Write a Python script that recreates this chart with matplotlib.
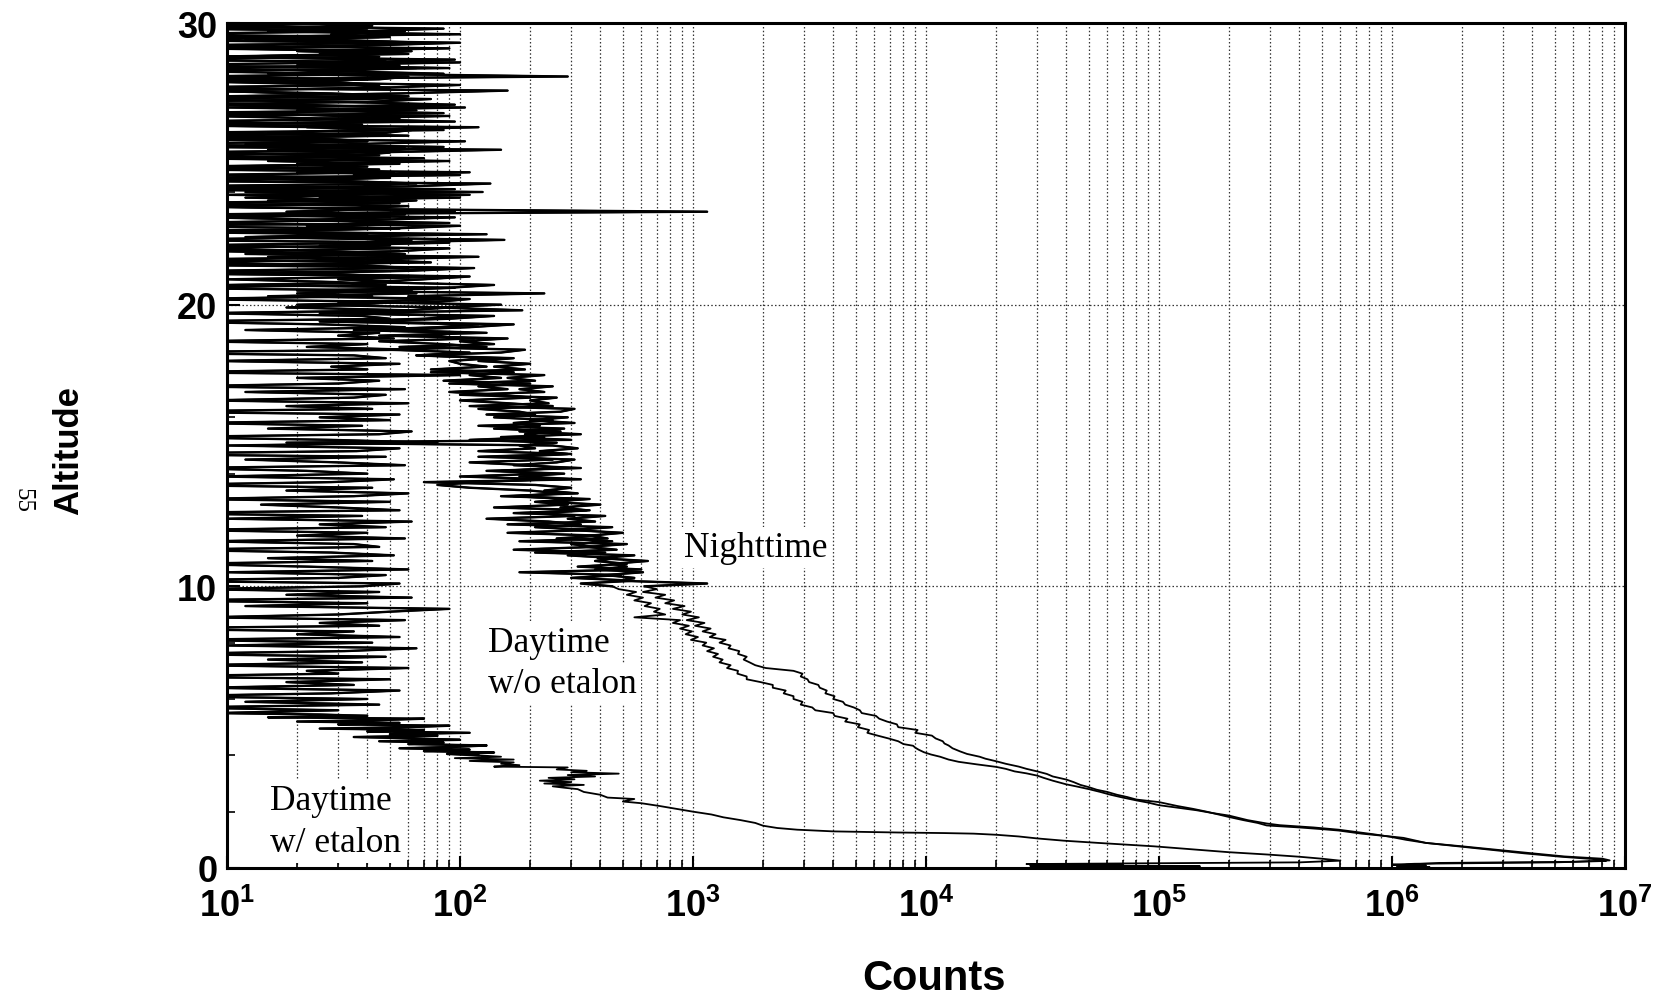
import numpy as np
import matplotlib
matplotlib.use("Agg")
import matplotlib.pyplot as plt
from matplotlib.ticker import LogLocator, MultipleLocator, NullFormatter, FixedLocator

# ---------------- data ----------------
# Nighttime profile
night_alt_low = [0.00, 0.03, 0.06, 0.09, 0.12, 0.15, 0.18, 0.22, 0.27, 0.33,
                 0.41, 0.53, 0.65, 0.77, 0.89, 0.98, 1.07, 1.12, 1.22, 1.33,
                 1.38, 1.44, 1.51, 1.60, 1.70, 1.81, 1.90, 2.00, 2.10, 2.20,
                 2.34, 2.43, 2.52, 2.60, 2.70, 2.78, 2.87, 2.95, 3.05, 3.14,
                 3.25, 3.34, 3.43, 3.52, 3.60, 3.70, 3.79, 3.88, 3.95, 4.05,
                 4.14, 4.25, 4.35, 4.42]
night_cnt_low = [1.2e6, 1.45e6, 1.1e6, 1.4e6, 1.15e6, 1.35e6, 1.6e6, 6.0e6, 8.6e6, 8.0e6,
                 5.5e6, 3.9e6, 2.8e6, 2.0e6, 1.4e6, 1.25e6, 1.12e6, 9.8e5, 7.4e5, 5.9e5,
                 5.0e5, 4.0e5, 2.9e5, 2.65e5, 2.3e5, 2.0e5, 1.8e5, 1.6e5, 1.4e5, 1.2e5,
                 1.0e5, 8.0e4, 7.3e4, 6.6e4, 6.0e4, 5.4e4, 5.0e4, 4.6e4, 4.3e4, 4.0e4,
                 3.5e4, 3.3e4, 3.0e4, 2.7e4, 2.5e4, 2.2e4, 2.0e4, 1.8e4, 1.7e4, 1.5e4,
                 1.4e4, 1.3e4, 1.25e4, 1.2e4]
# 4.5 .. 9.9 km, 0.1 km bins
night_cnt_mid = [11800, 11000, 10600, 9000, 9200, 7600, 7500, 6800, 6300, 6100,
                 5300, 5200, 4900, 4500, 4400, 4000, 4050, 3700, 3750, 3500,
                 3450, 3150, 3100, 2900, 2950, 2700, 2050, 1850, 1750, 1650,
                 1700, 1560, 1580, 1420, 1450, 1300, 1380, 1180, 1250, 1100,
                 1190, 1020, 1120, 940, 1060, 900, 980, 820, 920, 760,
                 830, 690, 760, 610, 700]
# 10.0 .. 30.0 km, 0.1 km bins
night_cnt_high = [620, 1150, 480, 560, 420, 610, 380, 520, 450, 640,
                  390, 560, 210, 470, 350, 520, 180, 430, 360, 500,
                  300, 450, 160, 380, 290, 420, 170, 350, 270, 400,
                  240, 360, 150, 320, 230, 300, 210, 70, 330, 180,
                  280, 130, 330, 170, 260, 310, 120, 290, 220, 320,
                  250, 18, 300, 150, 330, 180, 280, 120, 310, 200,
                  290, 130, 270, 310, 110, 240, 200, 260, 100, 230,
                  180, 250, 90, 210, 160, 230, 75, 190, 140, 200,
                  120, 170, 65, 150, 190, 55, 140, 100, 160, 45,
                  130, 50, 110, 170, 35, 90, 140, 25, 185, 80,
                  150, 30, 100, 60, 230, 20, 90, 140, 40, 70,
                  110, 15, 60, 115, 8, 75, 40, 120, 12, 55,
                  90, 6, 45, 155, 20, 130, 10, 50, 100, 5,
                  40, 95, 8, 1150, 30, 60, 4, 55, 25, 110,
                  12, 95, 5, 65, 30, 9, 100, 20, 45, 6,
                  55, 15, 70, 4, 40, 150, 7, 35, 105, 10,
                  45, 5, 85, 25, 3, 95, 30, 8, 85, 20,
                  105, 6, 40, 75, 10, 55, 160, 4, 45, 30,
                  8, 290, 35, 5, 90, 20, 100, 3, 45, 25,
                  55, 7, 40, 100, 12, 50, 4, 35, 85, 9,
                  30]

# Daytime without etalon
dwo_alt_low = [0.00, 0.03, 0.06, 0.09, 0.12, 0.15, 0.20, 0.25, 0.30, 0.40,
               0.52, 0.64, 0.76, 0.89, 1.00, 1.11, 1.20, 1.28, 1.36, 1.44,
               1.52, 1.58, 1.70, 1.86, 1.95, 2.05, 2.14, 2.23, 2.32, 2.40,
               2.50, 2.60, 2.70, 2.80, 2.90, 2.97, 3.10, 3.20, 3.28, 3.36,
               3.43, 3.52, 3.59, 3.68, 3.77, 3.85, 3.95, 4.03, 4.11, 4.20,
               4.27, 4.34, 4.40]
dwo_cnt_low = [1.1e6, 1.35e6, 1.05e6, 1.3e6, 1.0e6, 1.25e6, 5.0e6, 8.3e6, 7.8e6, 5.3e6,
               3.7e6, 2.7e6, 1.95e6, 1.4e6, 1.15e6, 9.8e5, 8.3e5, 7.0e5, 5.9e5, 4.6e5,
               3.3e5, 2.9e5, 2.4e5, 2.0e5, 1.7e5, 1.45e5, 1.2e5, 1.0e5, 9.0e4, 8.0e4,
               7.0e4, 6.2e4, 5.6e4, 5.0e4, 4.4e4, 4.0e4, 3.5e4, 3.2e4, 3.0e4, 2.7e4,
               2.4e4, 2.2e4, 2.0e4, 1.65e4, 1.38e4, 1.25e4, 1.15e4, 1.05e4, 9.8e3, 9.3e3,
               9.0e3, 8.8e3, 8.0e3]
dwo_cnt_mid = [7600, 6900, 6200, 5600, 5700, 5100, 5200, 4500, 4600, 4050,
               4000, 3350, 3250, 2900, 2950, 2700, 2700, 2450, 2500, 2200,
               2200, 1950, 1700, 1700, 1550, 1560, 1400, 1450, 1300, 1340,
               1220, 1280, 1150, 1230, 1100, 1140, 980, 1050, 930, 990,
               880, 960, 820, 880, 560, 760, 680, 720, 620, 660,
               560, 610, 520, 570, 480]
dwo_cnt_high = [450, 330, 560, 300, 490, 180, 600, 320, 520, 380,
                470, 290, 420, 170, 380, 300, 450, 260, 400, 160,
                360, 210, 330, 240, 130, 310, 220, 360, 140, 290,
                210, 310, 170, 270, 200, 110, 80, 120, 240, 100,
                230, 150, 270, 200, 110, 250, 170, 300, 120, 210,
                180, 260, 110, 230, 190, 270, 140, 220, 170, 250,
                140, 210, 180, 120, 250, 160, 100, 200, 150, 90,
                160, 120, 200, 85, 150, 110, 170, 75, 130, 100,
                90, 140, 65, 110, 50, 130, 85, 45, 115, 70,
                100, 35, 80, 120, 25, 70, 105, 30, 60, 90,
                20, 80, 110, 15, 65, 40, 95, 10, 55, 30,
                95, 6, 50, 100, 18, 60, 5, 70, 35, 9,
                55, 25, 90, 4, 40, 65, 12, 45, 3, 90,
                20, 50, 7, 95, 35, 5, 55, 15, 100, 10,
                125, 8, 60, 135, 4, 50, 35, 110, 6, 40,
                20, 90, 9, 45, 5, 55, 85, 12, 40, 3,
                60, 15, 35, 120, 6, 45, 25, 90, 4, 65,
                10, 95, 30, 5, 60, 20, 8, 45, 100, 15,
                40, 6, 85, 25, 65, 4, 35, 95, 9, 60,
                20, 90, 5, 70, 30, 8, 100, 15, 40, 3,
                50]

# Daytime with etalon
det_alt_low = [0.00, 0.02, 0.04, 0.06, 0.08, 0.10, 0.12, 0.14,
               0.20, 0.26, 0.33, 0.40, 0.48, 0.56, 0.66, 0.77, 0.89, 0.97,
               1.05, 1.12, 1.18, 1.22, 1.24, 1.26, 1.30, 1.36, 1.42, 1.50,
               1.60, 1.70, 1.80, 1.90, 2.00, 2.10, 2.20, 2.30, 2.36, 2.45,
               2.50, 2.60, 2.70, 2.80, 2.85, 2.90, 2.95, 3.00, 3.05, 3.10,
               3.15, 3.20, 3.25, 3.30, 3.35, 3.40, 3.45, 3.50, 3.57, 3.60,
               3.65, 3.70, 3.75, 3.80, 3.85, 3.90, 3.95]
det_cnt_low = [2.6e4, 9e4, 3.0e4, 1.5e5, 2.8e4, 7e4, 3.5e4, 2.7e4,
               4.0e5, 6.0e5, 5.0e5, 4.0e5, 2.9e5, 2.0e5, 1.4e5, 9.5e4, 5.5e4, 3.9e4,
               3.0e4, 2.5e4, 2.0e4, 1.6e4, 1.2e4, 7.6e3, 4.0e3, 2.8e3, 2.3e3, 2.0e3,
               1.85e3, 1.6e3, 1.35e3, 1.2e3, 1.0e3, 850, 720, 600, 500, 560,
               430, 400, 340, 320, 280, 250, 340, 230, 300, 220,
               310, 240, 380, 290, 480, 300, 350, 260, 290, 140,
               180, 150, 170, 110, 170, 95, 150]
# 4.00 .. 5.45 km, 0.05 km bins
det_cnt_mid = [120, 88, 140, 70, 110, 55, 95, 130, 60, 85,
               45, 100, 65, 35, 80, 50, 110, 40, 70, 25,
               60, 90, 30, 55, 20, 45, 70, 15, 40, 25]
# 5.5 .. 30.0 km, 0.1 km bins
det_cnt_high = [9, 30, 6, 45, 12,
                40, 5, 28, 55, 8, 35, 18, 50, 4, 30,
                22, 60, 7, 38, 15, 48, 5, 32, 65, 10,
                42, 6, 55, 20, 35, 3, 45, 25, 58, 8,
                30, 50, 90, 12, 40, 5, 62, 18, 45, 7,
                38, 55, 4, 30, 48, 10, 60, 22, 6, 42,
                15, 52, 28, 5, 45, 35, 8, 58, 20, 40,
                6, 48, 25, 62, 10, 38, 4, 55, 30, 14,
                50, 7, 35, 60, 18, 42, 5, 28, 52, 9,
                40, 22, 6, 58, 30, 12, 48, 3, 36, 55,
                10, 80, 28, 5, 45, 62, 15, 38, 7, 50,
                25, 55, 4, 42, 18, 60, 8, 35, 48, 12,
                58, 6, 30, 45, 20, 100, 5, 40, 28, 55,
                9, 48, 35, 3, 62, 22, 40, 7, 52, 30,
                45, 12, 58, 26, 5, 50, 38, 8, 60, 18,
                35, 55, 6, 42, 20, 62, 4, 48, 30, 10,
                52, 25, 8, 60, 38, 5, 45, 15, 58, 28,
                6, 50, 35, 62, 12, 40, 3, 55, 22, 45,
                30, 8, 58, 18, 48, 5, 40, 65, 12, 35,
                55, 4, 38, 60, 20, 45, 7, 52, 28, 10,
                42, 60, 6, 35, 50, 15, 58, 3, 40, 25,
                8, 48, 62, 22, 38, 5, 55, 30, 12, 45,
                58, 20, 4, 42, 60, 28, 7, 50, 35, 10,
                45, 60, 15, 38, 5, 55, 25, 48, 8, 40,
                62, 10, 35, 50, 4, 45, 28, 58, 6, 42,
                20]

x_ticks = [1e1, 1e2, 1e3, 1e4, 1e5, 1e6, 1e7]
y_ticks = [0, 10, 20, 30]
labels = {"night": "Nighttime", "dwo": ("Daytime", "w/o etalon"), "det": ("Daytime", "w/ etalon")}


def bins(start, step, values):
    return start + step * np.arange(len(values))


night_alt = np.concatenate([night_alt_low, bins(4.5, 0.1, night_cnt_mid), bins(10.0, 0.1, night_cnt_high)])
night_cnt = np.concatenate([night_cnt_low, night_cnt_mid, night_cnt_high])
dwo_alt = np.concatenate([dwo_alt_low, bins(4.5, 0.1, dwo_cnt_mid), bins(10.0, 0.1, dwo_cnt_high)])
dwo_cnt = np.concatenate([dwo_cnt_low, dwo_cnt_mid, dwo_cnt_high])
det_alt = np.concatenate([det_alt_low, bins(4.0, 0.05, det_cnt_mid), bins(5.5, 0.1, det_cnt_high)])
det_cnt = np.concatenate([det_cnt_low, det_cnt_mid, det_cnt_high])

# ---------------- figure ----------------
plt.rcParams["font.family"] = ["Liberation Sans", "DejaVu Sans"]
plt.rcParams["font.weight"] = "bold"

W, H = 1657, 1003
fig = plt.figure(figsize=(W / 100, H / 100), dpi=100)
L, R, T, B = 227, 1625, 24, 869
ax = fig.add_axes([L / W, 1 - B / H, (R - L) / W, (B - T) / H])

# whole profiles, then the noisy upper parts again a little heavier
for cnt, alt, noisy_from in [(det_cnt, det_alt, 4.0), (dwo_cnt, dwo_alt, 10.0),
                             (night_cnt, night_alt, 10.0)]:
    ax.plot(cnt, alt, color="black", lw=1.3)
    sel = alt >= noisy_from - 1e-9
    ax.plot(cnt[sel], alt[sel], color="black", lw=1.7)

ax.set_xscale("log")
ax.set_xlim(x_ticks[0], x_ticks[-1])
ax.set_ylim(y_ticks[0], y_ticks[-1])
ax.xaxis.set_major_locator(FixedLocator(x_ticks))
ax.xaxis.set_minor_locator(LogLocator(base=10, subs=np.arange(2, 10), numticks=30))
ax.xaxis.set_minor_formatter(NullFormatter())
ax.yaxis.set_major_locator(FixedLocator(y_ticks))
ax.yaxis.set_minor_locator(MultipleLocator(2))

grid_style = dict(color="0.2", linestyle=(0, (1.2, 1.8)), linewidth=0.9)
ax.grid(True, which="both", axis="x", **grid_style)
ax.grid(True, which="major", axis="y", **grid_style)

ax.tick_params(axis="both", which="major", direction="in", length=9, width=1.5,
               labelsize=26, top=False, right=False)
ax.tick_params(axis="both", which="minor", direction="in", length=6, width=1.2,
               top=False, right=False)
ax.tick_params(axis="x", which="major", pad=14)
ax.tick_params(axis="y", which="major", pad=7)
for sp in ax.spines.values():
    sp.set_linewidth(2.2)

# axis titles
fig.text(69 / W, 1 - 451 / H, "Altitude", rotation=90, ha="center", va="center",
         fontsize=25, fontweight="bold")
fig.text(934 / W, 1 - 979 / H, "Counts", ha="center", va="center",
         fontsize=30, fontweight="bold")
fig.text(22 / W, 1 - 500 / H, "55", rotation=-90, ha="center", va="center",
         fontsize=18, fontweight="normal", family=["Liberation Serif", "DejaVu Serif"])

serif = ["Liberation Serif", "DejaVu Serif"]
box = dict(facecolor="white", edgecolor="none", pad=3)


def put(x, y, s):
    fig.text(x / W, 1 - y / H, s, ha="left", va="baseline", fontsize=25.5,
             fontweight="normal", family=serif, bbox=box)


put(684, 557, labels["night"])
put(488, 652, labels["dwo"][0])
put(488, 693, labels["dwo"][1])
put(270, 810, labels["det"][0])
put(270, 852, labels["det"][1])

fig.savefig("out.png", dpi=100)
